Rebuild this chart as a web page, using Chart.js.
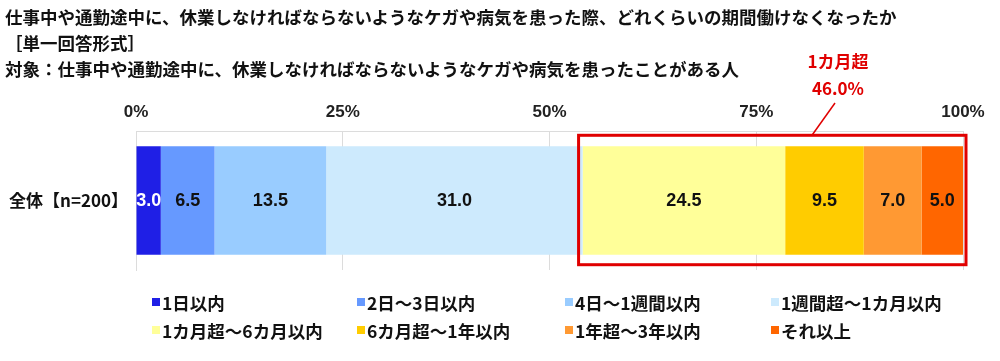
<!DOCTYPE html>
<html>
<head>
<meta charset="utf-8">
<script src="https://cdn.jsdelivr.net/npm/chart.js@4"></script>
<style>
  body { margin: 0; background: #fff; }
  #wrap { position: relative; width: 1000px; height: 361px; }
  .ttl { position: absolute; left: 5px; font: bold 17.5px "Noto Sans CJK JP", sans-serif; color: #111; white-space: nowrap; line-height: 1; }
  .note { position: absolute; font: bold 17px "Noto Sans CJK JP", sans-serif; color: #e00000; white-space: nowrap; line-height: 1; transform: translateX(-50%); }
</style>
</head>
<body>
<div id="wrap">
  <canvas id="myChart" width="1000" height="361"></canvas>
  <div class="ttl" style="top:8px">仕事中や通勤途中に、休業しなければならないようなケガや病気を患った際、どれくらいの期間働けなくなったか</div>
  <div class="ttl" style="top:34px">［単一回答形式］</div>
  <div class="ttl" style="top:60px">対象：仕事中や通勤途中に、休業しなければならないようなケガや病気を患ったことがある人</div>
  <div class="note" style="left:838px;top:52px">1カ月超</div>
  <div class="note" style="left:838px;top:79px">46.0%</div>
</div>
<script>
const categorias = ['全体【n=200】']
const series = ['1日以内', '2日～3日以内', '4日～1週間以内', '1週間超～1カ月以内',
                '1カ月超～6カ月以内', '6カ月超～1年以内', '1年超～3年以内', 'それ以上']
const valores = [3.0, 6.5, 13.5, 31.0, 24.5, 9.5, 7.0, 5.0]
const colores = ['#1f1fe6', '#6699ff', '#99ccff', '#cdeafd', '#ffff99', '#ffcc00', '#ff9933', '#ff6600']
const ticksX = [0, 25, 50, 75, 100]

const fuenteJP = '"Noto Sans CJK JP", sans-serif'
const fuenteNum = '"Liberation Sans", Arial, sans-serif'

// etiquetas dentro de las barras
const etiquetas = {
    id: 'etiquetas',
    afterDatasetsDraw(chart) {
        const ctx = chart.ctx
        ctx.save()
        ctx.font = 'bold 18px ' + fuenteNum
        ctx.textAlign = 'center'
        ctx.textBaseline = 'middle'
        chart.data.datasets.forEach((ds, i) => {
            const bar = chart.getDatasetMeta(i).data[0]
            ctx.fillStyle = i === 0 ? '#fff' : '#111'
            ctx.fillText(ds.data[0].toFixed(1), (bar.x + bar.base) / 2, bar.y + 1)
        })
        ctx.restore()
    }
}

// caja roja sobre "1カ月超"
const caja = {
    id: 'caja',
    afterDatasetsDraw(chart) {
        const ctx = chart.ctx
        const x = chart.scales.x
        const bar = chart.getDatasetMeta(4).data[0]
        const inicio = valores.slice(0, 4).reduce((a, b) => a + b, 0)
        const x0 = x.getPixelForValue(inicio) - 4
        const x1 = x.getPixelForValue(100) + 3
        const y0 = bar.y - bar.height / 2 - 11
        const y1 = bar.y + bar.height / 2 + 10
        ctx.save()
        ctx.strokeStyle = '#e00000'
        ctx.lineWidth = 3
        ctx.strokeRect(x0, y0, x1 - x0, y1 - y0)
        ctx.lineWidth = 1.5
        ctx.beginPath()
        ctx.moveTo(812, y0)
        ctx.lineTo(835, 103)
        ctx.stroke()
        ctx.restore()
    }
}

// leyenda en 2 filas x 4 columnas
const leyenda = {
    id: 'leyenda',
    afterDraw(chart) {
        const ctx = chart.ctx
        const cols = [152, 357, 565, 771]
        const filas = [302, 330]
        ctx.save()
        ctx.font = 'bold 17.5px ' + fuenteJP
        ctx.textBaseline = 'middle'
        series.forEach((s, i) => {
            const cx = cols[i % 4]
            const cy = filas[Math.floor(i / 4)]
            ctx.fillStyle = colores[i]
            ctx.fillRect(cx, cy - 4, 8, 8)
            ctx.fillStyle = '#111'
            ctx.fillText(s, cx + 10, cy + 1)
        })
        ctx.restore()
    }
}

let data = {
    labels: categorias,
    datasets: series.map((s, i) => ({
        label: s,
        data: [valores[i]],
        backgroundColor: colores[i],
        borderWidth: 0,
        barPercentage: 0.78,
        categoryPercentage: 1
    }))
}

let config = {
    type: 'bar',
    data,
    options: {
        indexAxis: 'y',
        responsive: false,
        animation: false,
        layout: { padding: { left: 0, right: 37, top: 0, bottom: 91 } },
        plugins: { legend: { display: false }, tooltip: { enabled: false } },
        scales: {
            x: {
                stacked: true,
                position: 'top',
                min: 0,
                max: 100,
                afterBuildTicks: (s) => { s.ticks = ticksX.map(v => ({ value: v })) },
                afterFit: (s) => { s.height = 131 },
                ticks: {
                    callback: v => v + '%',
                    font: { family: fuenteNum, size: 17, weight: 'bold' },
                    color: '#222',
                    padding: 8,
                    maxRotation: 0
                },
                grid: { color: '#dcdcdc', drawTicks: false },
                border: { color: '#dcdcdc' }
            },
            y: {
                stacked: true,
                afterFit: (s) => { s.width = 136 },
                ticks: {
                    font: { family: fuenteJP, size: 17, weight: 'bold' },
                    color: '#111',
                    padding: 8
                },
                grid: { display: false, drawTicks: false },
                border: { color: '#dcdcdc' }
            }
        }
    },
    plugins: [etiquetas, caja, leyenda]
}

new Chart(document.getElementById('myChart'), config)
</script>
</body>
</html>
